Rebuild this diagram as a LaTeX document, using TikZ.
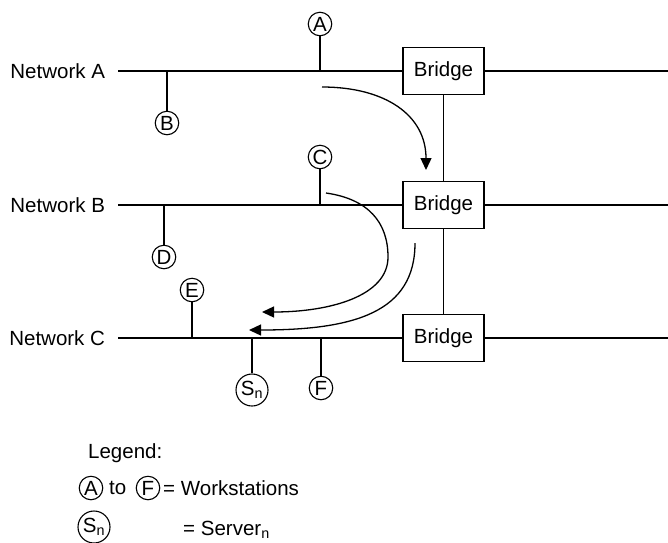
\documentclass[tikz,border=0pt]{standalone}
\usepackage{fontspec}
\setmainfont{Liberation Sans}
\usetikzlibrary{arrows.meta}
\begin{document}
\begin{tikzpicture}[x=1pt,y=-1pt,
  every node/.style={font=\fontsize{20.5}{24}\selectfont},
  ln/.style={line width=1.3pt},
  ws/.style={draw,circle,line width=1.1pt,minimum size=23.5pt,inner sep=0pt},
  srv/.style={draw,circle,line width=1.1pt,minimum size=32pt,inner sep=0pt},
  bridge/.style={draw,line width=1.3pt,minimum width=81pt,minimum height=47pt,inner sep=0pt},
  netlab/.style={anchor=east,inner sep=0pt,outer sep=0pt},
  flow/.style={line width=1.3pt,-{Triangle[length=12pt,width=11pt]}}
]
\useasboundingbox (0,0) rectangle (668,542);

% network labels
\node[netlab] (labA) at (105,71) {Network A};
\node[netlab] (labB) at (105,205) {Network B};
\node[netlab] (labC) at (105,338) {Network C};
\coordinate (sA) at (118,71);
\coordinate (sB) at (118,205);
\coordinate (sC) at (118,338);
\coordinate (eA) at (668,71);
\coordinate (eB) at (668,205);
\coordinate (eC) at (668,338);

% bridges
\node[bridge] (brA) at (443.5,71) {Bridge};
\node[bridge] (brB) at (443.5,205) {Bridge};
\node[bridge] (brC) at (443.5,338) {Bridge};

\draw[ln] (sA) -- (brA.west);
\draw[ln] (brA.east) -- (eA);
\draw[ln] (sB) -- (brB.west);
\draw[ln] (brB.east) -- (eB);
\draw[ln] (sC) -- (brC.west);
\draw[ln] (brC.east) -- (eC);
\draw[ln] (brA.south) -- (brB.north);
\draw[ln] (brB.south) -- (brC.north);

% workstations
\node[ws] (A) at (320,24) {A};
\node[ws] (B) at (167,123) {B};
\node[ws] (C) at (320,157) {C};
\node[ws] (D) at (164,257) {D};
\node[ws] (E) at (192,290) {E};
\node[ws] (F) at (321,388) {F};
\node[srv] (S) at (252,390) {S\textsubscript{n}};

\coordinate (tA) at (320,71);
\coordinate (tB) at (167,71);
\coordinate (tC) at (320,205);
\coordinate (tD) at (164,205);
\coordinate (tE) at (192,338);
\coordinate (tF) at (321,338);
\coordinate (tS) at (252,338);
\draw[ln] (tA) -- (A);
\draw[ln] (tB) -- (B);
\draw[ln] (tC) -- (C);
\draw[ln] (tD) -- (D);
\draw[ln] (tE) -- (E);
\draw[ln] (tF) -- (F);
\draw[ln] (tS) -- (S);

% flow arrows
\coordinate (f1s) at (322,87);
\coordinate (f1e) at (426,170);
\draw[flow] (f1s) .. controls (385,87) and (426,115) .. (f1e);
\coordinate (f2s) at (326,193);
\coordinate (f2m) at (388,257);
\coordinate (f2e) at (262,312);
\draw[flow] (f2s) .. controls (368,199) and (388,222) .. (f2m)
  .. controls (388,296) and (330,312) .. (f2e);
\coordinate (f3s) at (415,243);
\coordinate (f3e) at (249,330);
\draw[flow] (f3s) .. controls (415,312) and (355,330) .. (f3e);

% legend
\node[anchor=west,inner sep=0pt] (leg) at (88,453) {Legend:};
\node[ws] (LA) at (91,488) {A};
\node[anchor=west,inner sep=0pt] (lto) at (109,488) {to};
\node[ws] (LF) at (148,488) {F};
\node[anchor=west,inner sep=0pt] (lws) at (163,488) {= Workstations};
\node[srv] (LS) at (94,527) {S\textsubscript{n}};
\node[anchor=west,inner sep=0pt] (lsv) at (183,530) {= Server\textsubscript{n}};
\end{tikzpicture}
\end{document}
